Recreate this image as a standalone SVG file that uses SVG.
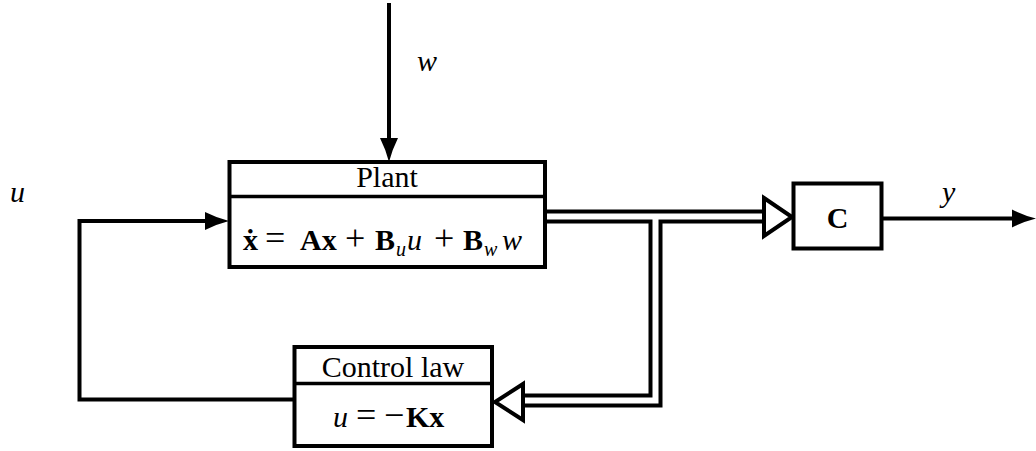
<svg xmlns="http://www.w3.org/2000/svg" width="1036" height="451" viewBox="0 0 1036 451">
<style>
  .box { fill: #fff; stroke: #000; stroke-width: 4; stroke-linejoin: miter; }
  .div { stroke: #000; stroke-width: 3.5; fill: none; }
  .wire { fill: none; stroke: #000; stroke-width: 4; stroke-linejoin: miter; }
  .dbl-o { fill: none; stroke: #000; stroke-width: 14; stroke-linejoin: miter; }
  .dbl-i { fill: none; stroke: #fff; stroke-width: 6; stroke-linejoin: miter; }
  .hollow { fill: #fff; stroke: #000; stroke-width: 4; stroke-linejoin: miter; }
  text { font-family: "Liberation Serif", "DejaVu Serif", serif; font-size: 30px; fill: #000; }
  .b { font-weight: bold; }
  .i { font-style: italic; }
  .s { font-size: 20px; font-style: italic; }
  .op { font-size: 36px; }
</style>
<defs>
  <marker id="ah" viewBox="0 0 24 20" refX="12" refY="10" markerWidth="24" markerHeight="20" markerUnits="userSpaceOnUse" orient="auto">
    <path d="M0,1 Q12,7 24,10 Q12,13 0,19 Z" fill="#000"/>
  </marker>
</defs>

<g id="connectors">
  <!-- disturbance w -->
  <line class="wire" x1="389" y1="3" x2="389" y2="150" marker-end="url(#ah)"/>
  <!-- feedback u into plant -->
  <polyline class="wire" points="294,399.5 79.5,399.5 79.5,221 217,221" marker-end="url(#ah)"/>
  <!-- output y -->
  <line class="wire" x1="881.5" y1="218.5" x2="1024" y2="218.5" marker-end="url(#ah)"/>
  <!-- double lines (state x) -->
  <line class="dbl-o" x1="545" y1="216.5" x2="764" y2="216.5"/>
  <polyline class="dbl-o" points="655.5,216.5 655.5,400.5 523,400.5"/>
  <line class="dbl-i" x1="543" y1="216.5" x2="766" y2="216.5"/>
  <polyline class="dbl-i" points="655.5,216.5 655.5,400.5 521,400.5"/>
  <!-- hollow arrowheads -->
  <polygon class="hollow" points="764,198 792,217 764,236"/>
  <polygon class="hollow" points="523,384 495,402 523,420"/>
</g>

<g id="plant">
  <rect class="box" x="229.5" y="162" width="315.5" height="105"/>
  <line class="div" x1="229.5" y1="196.5" x2="545" y2="196.5"/>
  <text x="387" y="187" text-anchor="middle">Plant</text>
  <text y="250"><tspan class="b" x="243">ẋ</tspan><tspan class="op" x="265">=</tspan><tspan class="b" x="300">Ax</tspan><tspan class="op" x="345">+</tspan><tspan class="b" x="375">B</tspan><tspan class="s" x="396" dy="6">u</tspan><tspan class="i" x="407" dy="-6">u</tspan><tspan class="op" x="434">+</tspan><tspan class="b" x="463">B</tspan><tspan class="s" x="484" dy="6">w</tspan><tspan class="i" x="502" dy="-6">w</tspan></text>
</g>

<g id="controllaw">
  <rect class="box" x="294.5" y="347" width="197.5" height="99"/>
  <line class="div" x1="294.5" y1="383.5" x2="492" y2="383.5"/>
  <text x="393" y="377" text-anchor="middle">Control law</text>
  <text y="427"><tspan class="i" x="333">u</tspan><tspan class="op" x="356">=</tspan><tspan class="op" x="384">−</tspan><tspan class="b" x="406">Kx</tspan></text>
</g>

<g id="cblock">
  <rect class="box" x="793.5" y="183.5" width="88" height="65"/>
  <text class="b" x="837.5" y="228" text-anchor="middle" font-size="28">C</text>
</g>

<g id="labels">
  <text class="i" x="10" y="202">u</text>
  <text class="i" x="417" y="71">w</text>
  <text class="i" x="942" y="202">y</text>
</g>
</svg>
